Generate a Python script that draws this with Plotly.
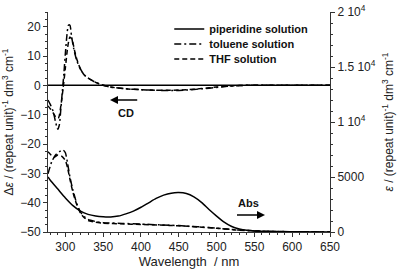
import plotly.graph_objects as go

# ---------------- data ----------------
# CD spectra (left axis, Δε)
cd_wl_pip = [277, 300, 350, 400, 450, 500, 550, 600, 650]
cd_pip = [0, 0, 0, 0, 0, 0, 0, 0, 0]

cd_wl_tol = [277, 280, 284, 287, 290, 292, 294, 296, 298, 300, 302, 304, 306, 308,
             311, 315, 320, 325, 330, 340, 350, 360, 380, 400, 420, 440, 460, 480,
             500, 520, 540, 600, 650]
cd_tol = [-5, -6.5, -9, -12.5, -15, -13.5, -8, -2, 4, 11, 17, 20.5, 20.5, 17,
          12.5, 8.5, 5.5, 3.5, 2.5, 1.0, 0.0, -0.6, -1.2, -1.5, -1.7, -1.8, -1.6, -1.2,
          -0.7, -0.2, 0, 0, 0]

cd_wl_thf = [277, 280, 284, 288, 291, 294, 297, 300, 303, 306, 309, 312, 315, 320,
             325, 330, 340, 350, 360, 380, 400, 420, 440, 460, 480, 500, 520, 540,
             600, 650]
cd_thf = [-7, -8, -9.5, -11, -11, -7, -1, 6, 13, 16.5, 15.5, 12, 9, 5.5,
          3.5, 2.5, 1.0, 0.0, -0.6, -1.2, -1.5, -1.7, -1.7, -1.5, -1.1, -0.6, -0.2, 0,
          0, 0]

# Absorption spectra (right axis, ε)
abs_wl_pip = [277, 280, 290, 300, 310, 320, 330, 340, 350, 360, 370, 380, 390, 400,
              410, 420, 430, 440, 450, 460, 470, 480, 490, 500, 510, 520, 530, 540,
              550, 575, 600, 650]
abs_pip = [5000, 4700, 3900, 3100, 2400, 1900, 1600, 1450, 1380, 1370, 1450, 1650,
           1900, 2250, 2650, 3050, 3350, 3530, 3580, 3500, 3200, 2700, 2050, 1450,
           900, 500, 280, 150, 90, 40, 20, 0]

abs_wl_tol = [277, 282, 287, 292, 297, 300, 303, 306, 310, 315, 320, 325, 330, 340,
              350, 375, 400, 425, 450, 475, 500, 525, 550, 575, 600, 650]
abs_tol = [5300, 6400, 7000, 7300, 7450, 7200, 6200, 5000, 3800, 2600, 1800, 1400,
           1150, 950, 850, 780, 720, 650, 580, 480, 350, 200, 100, 50, 25, 5]

abs_wl_thf = [277, 281, 285, 290, 295, 300, 303, 306, 310, 315, 320, 325, 330, 340,
              350, 375, 400, 425, 450, 475, 500, 525, 550, 575, 600, 650]
abs_thf = [7300, 7000, 6800, 7000, 6900, 6500, 5800, 4800, 3600, 2500, 1700, 1300,
           1050, 880, 800, 740, 690, 630, 560, 460, 340, 190, 100, 50, 25, 5]

x_ticks = [300, 350, 400, 450, 500, 550, 600, 650]
y_ticks = [-50, -40, -30, -20, -10, 0, 10, 20]
y2_tickvals = [0, 5000, 10000, 15000, 20000]
y2_ticktext = ["0", "5000", "1 10<sup>4</sup>", "1.5 10<sup>4</sup>", "2 10<sup>4</sup>"]

names = ["piperidine solution", "toluene solution", "THF solution"]

# ---------------- figure ----------------
FONT = "Arial, Liberation Sans, sans-serif"
LW = 1.5
solid = "solid"
dashdot = "7px,3px,2px,3px"
dashed = "5px,3px"

fig = go.Figure()
fig.add_trace(go.Scatter(x=cd_wl_pip, y=cd_pip, mode="lines", name=names[0], legend="legend",
                         line=dict(color="black", width=LW, dash=solid)))
fig.add_trace(go.Scatter(x=cd_wl_tol, y=cd_tol, mode="lines", name=names[1], legend="legend2",
                         line=dict(color="black", width=LW, dash=dashdot, shape="spline", smoothing=0.6)))
fig.add_trace(go.Scatter(x=cd_wl_thf, y=cd_thf, mode="lines", name=names[2], legend="legend3",
                         line=dict(color="black", width=LW, dash=dashed, shape="spline", smoothing=0.6)))

fig.add_trace(go.Scatter(x=abs_wl_pip, y=abs_pip, mode="lines", yaxis="y2", showlegend=False,
                         line=dict(color="black", width=LW, dash=solid, shape="spline", smoothing=0.6)))
fig.add_trace(go.Scatter(x=abs_wl_tol, y=abs_tol, mode="lines", yaxis="y2", showlegend=False,
                         line=dict(color="black", width=LW, dash=dashdot, shape="spline", smoothing=0.6)))
fig.add_trace(go.Scatter(x=abs_wl_thf, y=abs_thf, mode="lines", yaxis="y2", showlegend=False,
                         line=dict(color="black", width=LW, dash=dashed, shape="spline", smoothing=0.6)))

axis_common = dict(showgrid=False, zeroline=False, showline=True, linecolor="#333",
                   linewidth=1, ticks="outside", ticklen=4, tickcolor="#333", automargin=False,
                   ticklabeloverflow="allow",
                   tickfont=dict(family=FONT, size=12, color="#222"))

legend_font = dict(family=FONT, size=11, color="#111", weight="bold")
def leg(ypix):
    # ypix: target centre in page pixels
    return dict(x=0.43, y=1 - (ypix - 12) / 220, xanchor="left", yanchor="middle",
                bgcolor="rgba(0,0,0,0)", font=legend_font)

fig.update_layout(
    width=401, height=271,
    margin=dict(l=48, r=71, t=12, b=39),
    paper_bgcolor="white", plot_bgcolor="white",
    font=dict(family=FONT, size=12, color="#222"),
    showlegend=True,
    hovermode=False,
    legend=leg(29), legend2=leg(44), legend3=leg(59),
    xaxis=dict(range=[277, 650], tickvals=x_ticks,
               minor=dict(dtick=10, ticks="outside", ticklen=2, tickcolor="#333"),
               title=dict(text="Wavelength  / nm", font=dict(family=FONT, size=13), standoff=0),
               **axis_common),
    yaxis=dict(range=[-50, 25], tickvals=y_ticks,
               minor=dict(dtick=2.5, ticks="outside", ticklen=2, tickcolor="#333"),
               title=dict(text="Δ<i>ε</i> / (repeat unit)<sup>-1</sup> dm<sup>3</sup> cm<sup>-1</sup>",
                          font=dict(family=FONT, size=12), standoff=5),
               **axis_common),
    yaxis2=dict(range=[0, 20000], overlaying="y", side="right", anchor="x",
                tickvals=y2_tickvals, ticktext=y2_ticktext,
                minor=dict(dtick=1000, ticks="outside", ticklen=2, tickcolor="#333"),
                title=dict(text="<i>ε</i> / (repeat unit)<sup>-1</sup> dm<sup>3</sup> cm<sup>-1</sup>",
                           font=dict(family=FONT, size=12), standoff=9),
                **axis_common),
)

# CD / Abs labels with arrows
fig.add_annotation(x=359, y=-5, ax=397, ay=-5, xref="x", yref="y", axref="x", ayref="y",
                   text="", showarrow=True, arrowhead=2, arrowsize=1, arrowwidth=1.6, arrowcolor="black")
fig.add_annotation(x=380, y=-9.3, xref="x", yref="y", text="<b>CD</b>", showarrow=False,
                   font=dict(family=FONT, size=11, color="#111"))
fig.add_annotation(x=564, y=1545, ax=525, ay=1545, xref="x", yref="y2", axref="x", ayref="y2",
                   text="", showarrow=True, arrowhead=2, arrowsize=1, arrowwidth=1.6, arrowcolor="black")
fig.add_annotation(x=542, y=2600, xref="x", yref="y2", text="<b>Abs</b>", showarrow=False,
                   font=dict(family=FONT, size=11, color="#111"))

# remove the default 8px page margin so the figure fills the window exactly
fig.write_html("out.html", config={"displayModeBar": False, "staticPlot": True},
               post_script="document.body.style.margin='0';document.body.style.overflow='hidden';")
